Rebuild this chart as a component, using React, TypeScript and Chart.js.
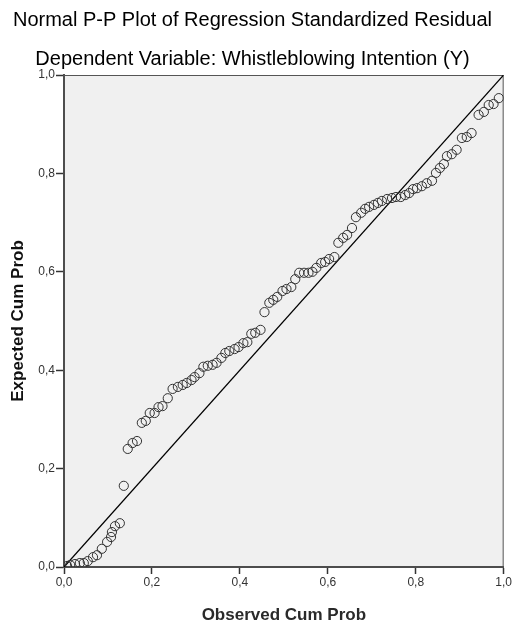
import React, { useEffect, useRef } from 'react';
import { Chart, registerables } from 'chart.js';

Chart.register(...registerables);

const titleText = 'Normal P-P Plot of Regression Standardized Residual';
const subtitleText = 'Dependent Variable: Whistleblowing Intention (Y)';
const xAxisTitle = 'Observed Cum Prob';
const yAxisTitle = 'Expected Cum Prob';
const tickLabels = ['0,0', '0,2', '0,4', '0,6', '0,8', '1,0'];

const observedCumProb = [
  0.007, 0.014, 0.025, 0.036, 0.045, 0.054, 0.066, 0.075, 0.086, 0.098,
  0.107, 0.109, 0.116, 0.127, 0.136, 0.145, 0.156, 0.166, 0.177, 0.186,
  0.195, 0.206, 0.215, 0.224, 0.236, 0.247, 0.259, 0.27, 0.279, 0.29,
  0.297, 0.308, 0.317, 0.327, 0.338, 0.347, 0.358, 0.367, 0.376, 0.388,
  0.397, 0.408, 0.417, 0.426, 0.435, 0.447, 0.456, 0.467, 0.476, 0.485,
  0.497, 0.506, 0.517, 0.526, 0.535, 0.546, 0.556, 0.565, 0.574, 0.585,
  0.594, 0.603, 0.615, 0.624, 0.635, 0.644, 0.655, 0.664, 0.676, 0.685,
  0.694, 0.705, 0.714, 0.723, 0.735, 0.746, 0.755, 0.766, 0.776, 0.785,
  0.794, 0.803, 0.814, 0.825, 0.837, 0.846, 0.855, 0.864, 0.871, 0.882,
  0.893, 0.905, 0.916, 0.927, 0.943, 0.955, 0.966, 0.977, 0.989,
];

const expectedCumProb = [
  0.002, 0.004, 0.006, 0.008, 0.008, 0.012, 0.02, 0.024, 0.037, 0.051,
  0.061, 0.071, 0.083, 0.089, 0.165, 0.24, 0.252, 0.256, 0.293, 0.297,
  0.313, 0.313, 0.325, 0.327, 0.343, 0.362, 0.366, 0.37, 0.374, 0.38,
  0.386, 0.394, 0.407, 0.409, 0.411, 0.415, 0.425, 0.435, 0.439, 0.443,
  0.447, 0.455, 0.457, 0.474, 0.476, 0.482, 0.518, 0.537, 0.543, 0.549,
  0.561, 0.565, 0.569, 0.585, 0.598, 0.598, 0.598, 0.6, 0.608, 0.618,
  0.62, 0.626, 0.63, 0.659, 0.669, 0.675, 0.689, 0.711, 0.72, 0.728,
  0.732, 0.736, 0.74, 0.744, 0.748, 0.75, 0.752, 0.752, 0.756, 0.76,
  0.768, 0.77, 0.774, 0.78, 0.785, 0.801, 0.811, 0.819, 0.835, 0.839,
  0.848, 0.872, 0.874, 0.882, 0.919, 0.925, 0.939, 0.941, 0.953,
];

const referenceLineX = [0, 1];
const referenceLineY = [0, 1];

const FONT = '"Liberation Sans", Arial, sans-serif';

const plotFrame = {
  id: 'plotFrame',
  beforeDraw(chart: any) {
    const { ctx, chartArea } = chart;
    ctx.save();
    ctx.fillStyle = '#ffffff';
    ctx.fillRect(0, 0, chart.width, chart.height);
    ctx.fillStyle = '#f0f0f0';
    ctx.fillRect(chartArea.left, chartArea.top, chartArea.right - chartArea.left, chartArea.bottom - chartArea.top);
    ctx.restore();
  },
  beforeDatasetsDraw(chart: any) {
    const { ctx, chartArea } = chart;
    ctx.save();
    ctx.strokeStyle = '#555555';
    ctx.lineWidth = 1;
    ctx.beginPath();
    ctx.moveTo(chartArea.left, chartArea.top + 0.5);
    ctx.lineTo(chartArea.right - 0.5, chartArea.top + 0.5);
    ctx.lineTo(chartArea.right - 0.5, chartArea.bottom);
    ctx.stroke();
    ctx.restore();
  },
};

export default function App() {
  const canvasRef = useRef<HTMLCanvasElement | null>(null);

  useEffect(() => {
    const canvas = canvasRef.current;
    if (!canvas) return;
    const points = observedCumProb.map((x, i) => ({ x, y: expectedCumProb[i] }));
    const line = referenceLineX.map((x, i) => ({ x, y: referenceLineY[i] }));

    const chart = new Chart(canvas, {
      type: 'scatter',
      data: {
        datasets: [
          {
            type: 'line',
            data: line,
            borderColor: '#000000',
            borderWidth: 1.3,
            pointRadius: 0,
            fill: false,
            order: 2,
          } as any,
          {
            type: 'scatter',
            data: points,
            pointRadius: 4.6,
            pointBackgroundColor: 'rgba(0,0,0,0)',
            pointBorderColor: '#333333',
            pointBorderWidth: 1,
            order: 1,
          } as any,
        ],
      },
      options: {
        responsive: false,
        animation: false,
        devicePixelRatio: 1,
        layout: { padding: { left: 0, right: 8, top: 0, bottom: 0 } },
        plugins: {
          legend: { display: false },
          tooltip: { enabled: false },
          title: {
            display: true,
            text: titleText,
            color: '#000000',
            font: { family: FONT, size: 20, weight: 'normal', lineHeight: 1.2 },
            padding: { top: 8.3, bottom: 0 },
          },
          subtitle: {
            display: true,
            text: subtitleText,
            color: '#000000',
            font: { family: FONT, size: 20, weight: 'normal', lineHeight: 1.2 },
            padding: { top: 15.4, bottom: 3.3 },
          },
        },
        scales: {
          x: {
            type: 'linear',
            min: 0,
            max: 1,
            afterFit: (s: any) => { s.height = 59; },
            border: { display: true, color: '#4d4d4d', width: 2 },
            grid: { display: true, drawOnChartArea: false, drawTicks: true, tickLength: 7, tickColor: '#333333', tickWidth: 1.5 },
            ticks: {
              stepSize: 0.2,
              padding: 1,
              color: '#333333',
              font: { family: FONT, size: 12 },
              maxRotation: 0,
              callback: (_v: any, i: number) => tickLabels[i],
            },
            title: {
              display: true,
              text: xAxisTitle,
              color: '#2a2a2a',
              font: { family: FONT, size: 17, weight: 'bold', lineHeight: 1.2 },
              padding: { top: 0, bottom: 0 },
            },
          },
          y: {
            type: 'linear',
            min: 0,
            max: 1,
            afterFit: (s: any) => { s.width = 64; },
            border: { display: true, color: '#4d4d4d', width: 2 },
            grid: { display: true, drawOnChartArea: false, drawTicks: true, tickLength: 8, tickColor: '#333333', tickWidth: 1.5 },
            ticks: {
              stepSize: 0.2,
              padding: 1,
              color: '#333333',
              font: { family: FONT, size: 12 },
              callback: (_v: any, i: number) => tickLabels[i],
            },
            title: {
              display: true,
              text: yAxisTitle,
              color: '#111111',
              font: { family: FONT, size: 17, weight: 'bold', lineHeight: 1.2 },
              padding: { top: 8, bottom: 0 },
            },
          },
        },
      },
      plugins: [plotFrame],
    });

    return () => chart.destroy();
  }, []);

  return (
    <div style={{ position: 'absolute', left: 0, top: 0, width: 513, height: 626, background: '#ffffff' }}>
      <canvas ref={canvasRef} width={513} height={626} style={{ display: 'block', width: 513, height: 626 }} />
    </div>
  );
}
